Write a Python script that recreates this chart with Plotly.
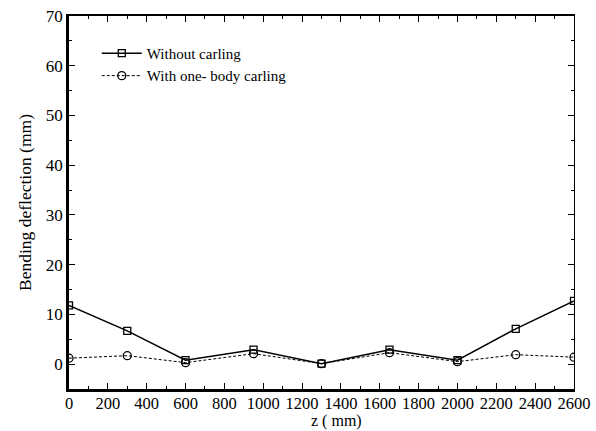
import plotly.graph_objects as go

z_mm = [0, 300, 600, 950, 1300, 1650, 2000, 2300, 2600]
without_carling = [11.8, 6.7, 0.8, 2.9, 0.1, 2.9, 0.8, 7.1, 12.7]
with_one_body = [1.2, 1.7, 0.3, 2.1, 0.1, 2.3, 0.5, 1.9, 1.4]
x_ticks = list(range(0, 2601, 200))
y_ticks = list(range(0, 71, 10))

serif = "Liberation Serif"

fig = go.Figure()
fig.add_trace(go.Scatter(
    x=z_mm, y=without_carling, name="Without carling", mode="lines+markers",
    line=dict(color="black", width=1.5),
    marker=dict(symbol="square-open", size=7, color="black", line=dict(width=1.3)),
))
fig.add_trace(go.Scatter(
    x=z_mm, y=with_one_body, name="With one- body carling", mode="lines+markers",
    line=dict(color="black", width=1, dash="3px,2px"),
    marker=dict(symbol="circle-open", size=8, color="black", line=dict(width=1.3)),
))
fig.add_trace(go.Scatter(x=[0], y=[0], xaxis="x2", yaxis="y2", mode="markers",
                         marker=dict(opacity=0), showlegend=False, hoverinfo="skip"))

fig.update_layout(
    width=596, height=431,
    margin=dict(l=69, r=22, t=16, b=42),
    paper_bgcolor="white", plot_bgcolor="white",
    font=dict(family=serif, color="black", size=17),
    showlegend=True,
    legend=dict(x=0.055, y=0.944, xanchor="left", yanchor="top",
                bgcolor="rgba(0,0,0,0)", font=dict(size=15, family=serif),
                itemwidth=40, tracegroupgap=0),
    xaxis=dict(range=[0, 2600], tickvals=x_ticks, ticktext=[str(v) for v in x_ticks],
               tickangle=0, ticks="inside", ticklen=6, automargin=False,
               tickwidth=1.3, tickcolor="black", ticklabelstandoff=-3,
               minor=dict(dtick=100, ticks="inside", ticklen=3, tickcolor="black", tickwidth=1),
               showline=True, linewidth=2.5, linecolor="black", showgrid=False,
               zeroline=False, tickfont=dict(size=16.5, family=serif)),
    yaxis=dict(range=[-5, 70], tickvals=y_ticks, ticks="inside", ticklen=6,
               tickwidth=1.3, tickcolor="black", automargin=False,
               minor=dict(dtick=5, ticks="inside", ticklen=3, tickcolor="black", tickwidth=1),
               showline=True, linewidth=2.5, linecolor="black", showgrid=False,
               zeroline=False, tickfont=dict(size=17, family=serif),
               title=dict(text="Bending deflection (mm)", standoff=10, font=dict(size=17.5, family=serif))),
    xaxis2=dict(overlaying="x", side="top", range=[0, 2600], tickvals=x_ticks,
                ticks="inside", ticklen=6, tickcolor="black", tickwidth=1.3, automargin=False,
                minor=dict(dtick=100, ticks="inside", ticklen=3, tickcolor="black", tickwidth=1),
                showticklabels=False, showline=True, linewidth=2, linecolor="black",
                showgrid=False, zeroline=False),
    yaxis2=dict(overlaying="y", side="right", range=[-5, 70], tickvals=y_ticks,
                ticks="inside", ticklen=6, tickcolor="black", tickwidth=1.3, automargin=False,
                minor=dict(dtick=5, ticks="inside", ticklen=3, tickcolor="black", tickwidth=1),
                showticklabels=False, showline=True, linewidth=1.2, linecolor="black",
                showgrid=False, zeroline=False),
    annotations=[dict(text="z ( mm)", xref="paper", yref="paper", x=0.53, y=-0.114,
                      xanchor="center", yanchor="bottom", showarrow=False,
                      font=dict(size=16, family=serif))],
)

fig.write_html("out.html")
